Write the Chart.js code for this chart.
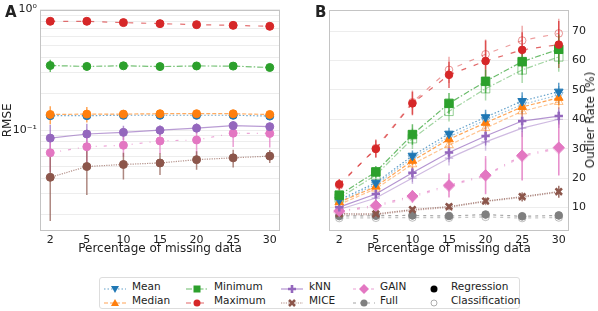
<!DOCTYPE html>
<html><head><meta charset="utf-8">
<script src="https://cdn.jsdelivr.net/npm/chart.js@4"></script>
<style>
body{margin:0;background:#fff;width:598px;height:311px;overflow:hidden;position:relative;font-family:'DejaVu Sans',sans-serif;color:#222}
canvas{position:absolute;top:0}
#ca{left:0}
#cb{left:300px}
.pl{position:absolute;font-weight:bold;font-size:15px;line-height:15px}
#ylabB{position:absolute;left:590px;top:120px;font-size:12px;white-space:nowrap;transform:translate(-50%,-50%) rotate(-90deg)}
#legend{position:absolute;left:99px;top:277px;width:421px;height:32px;border:1px solid #ddd;border-radius:3px;box-sizing:border-box}
.li{position:absolute;font-size:10.5px;line-height:12px;white-space:nowrap}
.lh{position:absolute}
</style></head><body>
<canvas id="ca" width="300" height="262"></canvas>
<canvas id="cb" width="298" height="262"></canvas>
<div class="pl" style="left:5px;top:5px">A</div>
<div class="pl" style="left:315px;top:5px">B</div>
<div id="ylabB">Outlier Rate (%)</div>
<div id="legend"></div>
<script>
// ---------- DATA ----------
const xLabels = ['2','5','10','15','20','25','30'];

// Panel A: RMSE
const rmseMean   = [0.132,0.132,0.133,0.133,0.133,0.133,0.131];
const rmseMedian = [0.135,0.136,0.136,0.137,0.137,0.137,0.135];
const rmseMin    = [0.344,0.338,0.342,0.337,0.341,0.340,0.331];
const rmseMax    = [0.80,0.80,0.78,0.765,0.75,0.74,0.727];
const rmseKnn    = [0.086,0.093,0.096,0.100,0.104,0.109,0.107];
const rmseGain   = [0.065,0.073,0.075,0.0815,0.083,0.0945,0.094];
const rmseMice   = [0.0407,0.050,0.052,0.0535,0.057,0.059,0.061];
const rmseMeanErr   = [0.006,0.005,0.004,0.003,0.003,0.003,0.003];
const rmseMedianErr = [0.023,0.020,0.010,0.006,0.006,0.006,0.005];
const rmseMinErr    = [0.040,0.025,0.020,0.015,0.015,0.015,0.012];
const rmseMaxErr    = [0.040,0.035,0.030,0.030,0.030,0.035,0.040];
const rmseKnnErr    = [0.025,0.020,0.013,0.010,0.010,0.010,0.008];
const rmseGainErr   = [0.020,0.020,0.015,0.018,0.025,0.022,0.022];
const rmseMiceErr   = [0.023,0.021,0.013,0.011,0.010,0.010,0.0075];

// Panel B: outlier rate (%) - Regression (filled)
const regMean   = [12.6,18.4,27.6,35.1,40.7,46.2,49.4];
const regMedian = [11.8,17.1,25.9,33.2,38.8,44.2,47.3];
const regMin    = [14.2,22.1,34.8,45.4,52.9,59.6,63.8];
const regMax    = [17.9,29.9,45.4,55.1,59.8,63.6,65.4];
const regKnn    = [10.1,14.6,21.8,28.7,34.3,39.4,41.1];
const regGain   = [8.8,10.7,13.9,17.6,21.0,27.7,30.4];
const regMice   = [7.9,7.8,9.3,10.3,12.2,13.7,15.4];
const regFull   = [7.1,7.2,7.3,7.1,7.6,7.0,7.3];
const regMeanErr   = [1.0,1.2,1.8,2.0,2.5,3.0,3.0];
const regMedianErr = [1.0,1.0,1.5,2.0,2.0,2.5,2.5];
const regMinErr    = [1.5,2.0,3.5,3.5,4.0,4.5,5.0];
const regMaxErr    = [1.8,3.0,4.0,4.5,7.0,6.0,8.0];
const regKnnErr    = [1.0,1.5,2.0,2.5,3.0,3.0,3.0];
const regGainErr   = [1.0,2.0,2.0,4.0,6.5,8.5,9.5];
const regMiceErr   = [0.8,0.8,0.8,1.0,1.2,1.5,2.0];
const regFullErr   = [0.8,0.8,0.8,0.8,0.8,0.8,0.8];

// Panel B: outlier rate (%) - Classification (open)
const clsMean   = [12.0,17.8,26.8,34.0,39.8,45.0,48.3];
const clsMedian = [11.0,16.4,24.7,31.2,37.0,42.7,45.9];
const clsMin    = [13.2,21.0,33.4,42.7,50.4,56.8,61.2];
const clsMax    = [17.5,30.2,45.8,56.8,62.1,66.8,69.2];
const clsKnn    = [9.3,13.2,20.0,26.8,32.3,37.0,40.0];
const clsGain   = [8.4,10.3,13.5,17.2,20.7,27.3,30.0];
const clsMice   = [7.5,7.5,9.0,10.0,12.0,13.4,15.2];
const clsFull   = [6.4,6.5,6.6,6.5,6.8,6.4,6.6];
const clsMeanErr   = [1.0,1.2,1.8,2.0,2.5,3.0,3.0];
const clsMedianErr = [1.0,1.0,1.5,2.0,2.0,2.5,2.5];
const clsMinErr    = [1.5,2.0,3.5,3.5,4.0,4.5,5.0];
const clsMaxErr    = [1.8,3.0,4.0,4.5,5.0,5.0,5.0];
const clsKnnErr    = [1.0,1.5,2.0,2.5,3.0,3.0,3.0];
const clsGainErr   = [1.0,2.0,2.0,4.0,6.0,8.0,9.0];
const clsMiceErr   = [0.8,0.8,0.8,1.0,1.2,1.5,2.0];
const clsFullErr   = [0.8,0.8,0.8,0.8,0.8,0.8,0.8];

// ---------- STYLE ----------
const C = {mean:'#1f77b4', median:'#ff7f0e', min:'#2ca02c', max:'#d62728', knn:'#9467bd', mice:'#8c564b', gain:'#e377c2', full:'#7f7f7f'};
const DASH = {mean:[1.5,2], median:[4,2], min:[6,2,1.5,2], max:[5,8], knn:[], mice:[1.2,1.2], gain:[3,7,1,7], full:[3,4]};
const MARK = {
  mean:{s:'triangle',r:5,rot:180,bw:1}, median:{s:'triangle',r:5,rot:0,bw:1},
  min:{s:'rect',r:6,rot:0,bw:1}, max:{s:'circle',r:3.8,rot:0,bw:1},
  knn:{s:'cross',r:4.2,rot:0,bw:2.6}, mice:{s:'crossRot',r:4.5,rot:0,bw:2.6},
  gain:{s:'rectRot',r:5.5,rot:0,bw:1}, full:{s:'circle',r:3.8,rot:0,bw:1}
};
function rgba(hex,a){const n=parseInt(hex.slice(1),16);return `rgba(${n>>16},${(n>>8)&255},${n&255},${a})`;}
const pts = v => v.map((y,i)=>({x:i,y}));
const FONT = "'DejaVu Sans', sans-serif";

function dsA(key, vals, err, order){
  const c=C[key];
  return {data:pts(vals), err, errColor:rgba(c,0.7), borderColor:rgba(c,0.65), borderWidth:1.2,
    borderDash:DASH[key], pointStyle:'circle', pointRadius:4, pointBackgroundColor:c,
    pointBorderColor:c, pointBorderWidth:1, fill:false, order};
}
function dsB(key, vals, err, filled, order){
  const c=C[key], m=MARK[key];
  return {data:pts(vals), err, errColor:rgba(c, filled?0.7:0.4),
    borderColor:rgba(c, filled?0.7:0.45), borderWidth:1.2, borderDash:DASH[key],
    pointStyle:m.s, pointRadius:m.r, pointRotation:m.rot,
    pointBackgroundColor: filled?c:'rgba(255,255,255,0)',
    pointBorderColor: filled?c:rgba(c,0.5),
    pointBorderWidth: filled?m.bw:(m.s.startsWith('cross')?1.2:1), fill:false, order};
}

// ---------- PLUGINS ----------
const errPlugin = {
  id:'errbars',
  beforeDatasetsDraw(chart){
    const {ctx, chartArea:a} = chart; const x=chart.scales.x, y=chart.scales.y;
    ctx.save(); ctx.beginPath(); ctx.rect(a.left,a.top,a.right-a.left,a.bottom-a.top); ctx.clip();
    chart.data.datasets.forEach(ds=>{
      if(!ds.err) return;
      ctx.strokeStyle=ds.errColor; ctx.lineWidth=1.5; ctx.setLineDash([]);
      ds.data.forEach((p,i)=>{
        const e=ds.err[i]; const px=x.getPixelForValue(p.x);
        let lo=p.y-e; if(lo<=0) lo=y.min;
        const y1=y.getPixelForValue(lo), y2=y.getPixelForValue(p.y+e);
        ctx.beginPath(); ctx.moveTo(px,y1); ctx.lineTo(px,y2); ctx.stroke();
      });
    });
    ctx.restore();
  }
};
const framePlugin = {
  id:'frame',
  afterDraw(chart){
    const {ctx, chartArea:a}=chart;
    ctx.save(); ctx.strokeStyle='#c4c4c4'; ctx.lineWidth=1; ctx.setLineDash([]);
    ctx.strokeRect(Math.round(a.left)+0.5, Math.round(a.top)+0.5, Math.round(a.right-a.left)-1, Math.round(a.bottom-a.top)-1);
    ctx.restore();
  }
};

function xScale(){
  return {type:'linear', min:-0.28, max:6.28,
    afterBuildTicks(s){ s.ticks = xLabels.map((_,i)=>({value:i})); },
    afterFit(s){ s.height=25; },
    ticks:{callback:v=>xLabels[v], font:{size:11,family:FONT}, color:'#222', padding:3, maxRotation:0, autoSkip:false},
    grid:{display:false, drawTicks:false, tickLength:0}, border:{display:false},
    title:{display:true, text:'Percentage of missing data', font:{size:12,family:FONT}, color:'#222', padding:0}
  };
}

// ---------- CHART A ----------
const logTicks = [0.02,0.03,0.04,0.05,0.06,0.07,0.08,0.09,0.1,0.2,0.3,0.4,0.5,0.6,0.7,0.8,0.9,1];
new Chart(document.getElementById('ca'), {
  type:'line',
  data:{datasets:[
    dsA('max', rmseMax, rmseMaxErr, 1),
    dsA('min', rmseMin, rmseMinErr, 2),
    dsA('median', rmseMedian, rmseMedianErr, 3),
    dsA('mean', rmseMean, rmseMeanErr, 4),
    dsA('knn', rmseKnn, rmseKnnErr, 5),
    dsA('gain', rmseGain, rmseGainErr, 6),
    dsA('mice', rmseMice, rmseMiceErr, 7)
  ]},
  options:{
    responsive:false, animation:false, events:[],
    layout:{padding:{left:0,right:20,top:5,bottom:6}},
    plugins:{legend:{display:false}, tooltip:{enabled:false}},
    scales:{
      x:xScale(),
      y:{type:'logarithmic', min:0.0146, max:1,
        afterBuildTicks(s){ s.ticks = logTicks.map(v=>({value:v})); },
        afterFit(s){ s.width=40; },
        ticks:{callback:v=> v===1?'10⁰':(Math.abs(v-0.1)<1e-9?'10⁻¹':''), font:{size:11,family:FONT}, color:'#222', padding:3, autoSkip:false},
        grid:{color:'#ededed', drawTicks:false, tickLength:0}, border:{display:false},
        title:{display:true, text:'RMSE', font:{size:12,family:FONT}, color:'#222', padding:1}
      }
    }
  },
  plugins:[errPlugin, framePlugin]
});

// ---------- CHART B ----------
const bTicks=[10,20,30,40,50,60,70];
new Chart(document.getElementById('cb'), {
  type:'line',
  data:{datasets:[
    dsB('max', regMax, regMaxErr, true, 1),
    dsB('min', regMin, regMinErr, true, 2),
    dsB('mean', regMean, regMeanErr, true, 3),
    dsB('median', regMedian, regMedianErr, true, 4),
    dsB('knn', regKnn, regKnnErr, true, 5),
    dsB('gain', regGain, regGainErr, true, 6),
    dsB('mice', regMice, regMiceErr, true, 7),
    dsB('full', regFull, regFullErr, true, 8),
    dsB('max', clsMax, clsMaxErr, false, 11),
    dsB('min', clsMin, clsMinErr, false, 12),
    dsB('mean', clsMean, clsMeanErr, false, 13),
    dsB('median', clsMedian, clsMedianErr, false, 14),
    dsB('knn', clsKnn, clsKnnErr, false, 15),
    dsB('gain', clsGain, clsGainErr, false, 16),
    dsB('mice', clsMice, clsMiceErr, false, 17),
    dsB('full', clsFull, clsFullErr, false, 18)
  ]},
  options:{
    responsive:false, animation:false, events:[],
    layout:{padding:{left:29,right:0,top:5,bottom:6}},
    plugins:{legend:{display:false}, tooltip:{enabled:false}},
    scales:{
      x:xScale(),
      y:{type:'linear', position:'right', min:2, max:77.3,
        afterBuildTicks(s){ s.ticks = bTicks.map(v=>({value:v})); },
        afterFit(s){ s.width=29; },
        ticks:{font:{size:11,family:FONT}, color:'#222', padding:3, autoSkip:false},
        grid:{color:'#ededed', drawTicks:false, tickLength:0}, border:{display:false},
        title:{display:false}
      }
    }
  },
  plugins:[errPlugin, framePlugin]
});

// ---------- LEGEND ----------
const legendItems = [
  {key:'mean', label:'Mean', col:0, row:0},
  {key:'median', label:'Median', col:0, row:1},
  {key:'min', label:'Minimum', col:1, row:0},
  {key:'max', label:'Maximum', col:1, row:1},
  {key:'knn', label:'kNN', col:2, row:0},
  {key:'mice', label:'MICE', col:2, row:1},
  {key:'gain', label:'GAIN', col:3, row:0},
  {key:'full', label:'Full', col:3, row:1}
];
const colHandleX=[4,86,181,253], colTextX=[32,114,209,280], rowY=[8,22];
function markerSVG(key,c,cx,cy){
  switch(key){
    case 'mean': return `<polygon points="${cx-4},${cy-3} ${cx+4},${cy-3} ${cx},${cy+4}" fill="${c}"/>`;
    case 'median': return `<polygon points="${cx-4},${cy+3} ${cx+4},${cy+3} ${cx},${cy-4}" fill="${c}"/>`;
    case 'min': return `<rect x="${cx-3.5}" y="${cy-3.5}" width="7" height="7" fill="${c}"/>`;
    case 'knn': return `<path d="M${cx-4} ${cy}H${cx+4}M${cx} ${cy-4}V${cy+4}" stroke="${c}" stroke-width="2.6"/>`;
    case 'mice': return `<path d="M${cx-3} ${cy-3}L${cx+3} ${cy+3}M${cx+3} ${cy-3}L${cx-3} ${cy+3}" stroke="${c}" stroke-width="2.6"/>`;
    case 'gain': return `<polygon points="${cx},${cy-5} ${cx+5},${cy} ${cx},${cy+5} ${cx-5},${cy}" fill="${c}"/>`;
    default: return `<circle cx="${cx}" cy="${cy}" r="3.5" fill="${c}"/>`;
  }
}
const lg=document.getElementById('legend');
legendItems.forEach(it=>{
  const c=C[it.key];
  const h=document.createElement('div'); h.className='lh';
  h.style.left=colHandleX[it.col]+'px'; h.style.top=(rowY[it.row]-6)+'px';
  h.innerHTML=`<svg width="22" height="12"><line x1="0" y1="6" x2="22" y2="6" stroke="${rgba(c,0.7)}" stroke-width="1.2" stroke-dasharray="${DASH[it.key].join(',')||'none'}"/>${markerSVG(it.key,c,11,6)}</svg>`;
  lg.appendChild(h);
  const t=document.createElement('div'); t.className='li'; t.textContent=it.label;
  t.style.left=colTextX[it.col]+'px'; t.style.top=(rowY[it.row]-6)+'px';
  lg.appendChild(t);
});
[['Regression',true,0],['Classification',false,1]].forEach(([lab,f,row])=>{
  const h=document.createElement('div'); h.className='lh';
  h.style.left='328px'; h.style.top=(rowY[row]-6)+'px';
  h.innerHTML=`<svg width="12" height="12"><circle cx="6" cy="6" r="${f?3.5:3}" fill="${f?'#000':'none'}" stroke="${f?'#000':'#999'}" stroke-width="${f?0:0.8}"/></svg>`;
  lg.appendChild(h);
  const t=document.createElement('div'); t.className='li'; t.textContent=lab;
  t.style.left='351px'; t.style.top=(rowY[row]-6)+'px';
  lg.appendChild(t);
});
</script>
</body></html>
